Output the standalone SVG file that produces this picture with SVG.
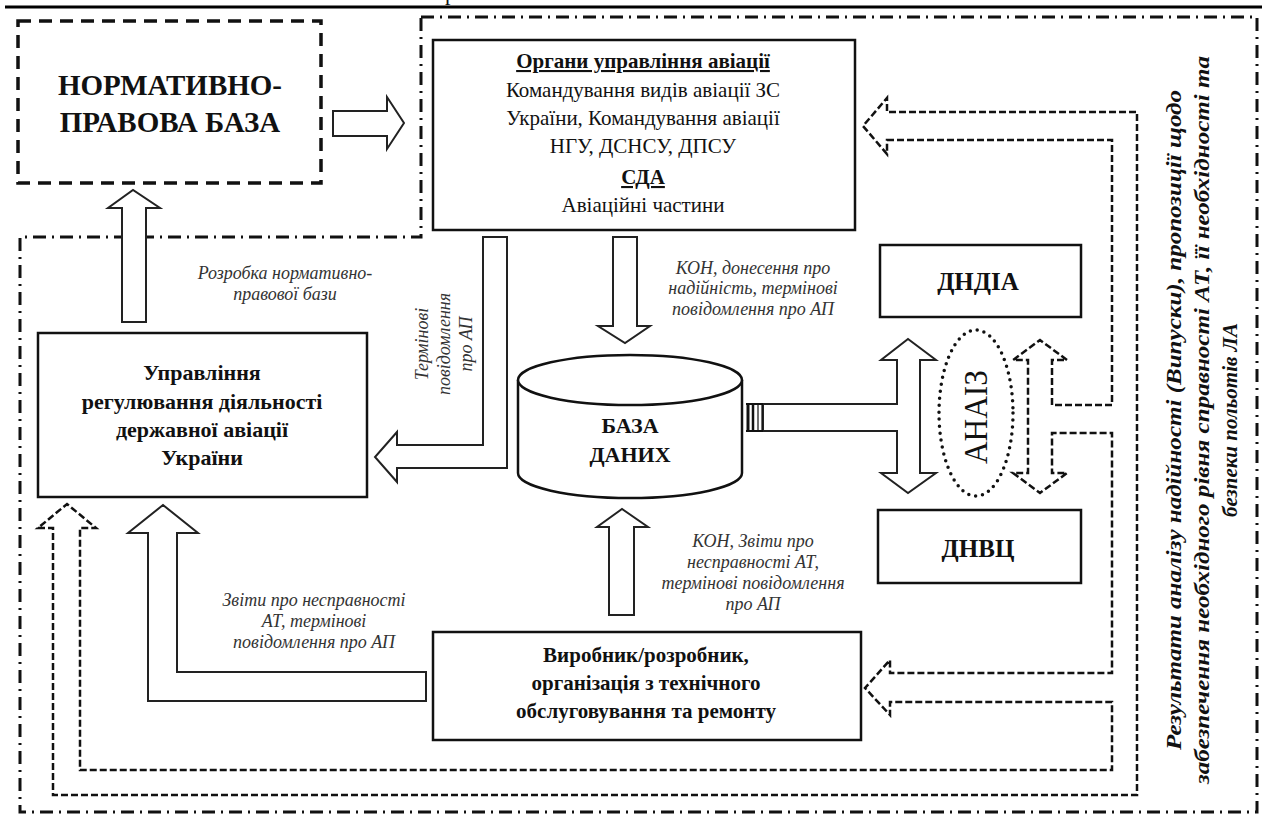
<svg xmlns="http://www.w3.org/2000/svg" width="1270" height="814" viewBox="0 0 1270 814">
<rect width="1270" height="814" fill="#fff"/>
<text x="445" y="0" font-size="22" font-family="Times New Roman" style="font-family:'Liberation Serif','Times New Roman',serif" fill="#111">р</text>
<line x1="5" y1="7" x2="1262" y2="7" stroke="#000" stroke-width="3"/>
<g id="region">
<path d="M421,17 H1257 V812 H20 V237 H421 Z" fill="none" stroke="#111" stroke-width="3" stroke-dasharray="13 6 2 6"/>
</g>
<g id="connectors">
<g fill="#fff" stroke="#222" stroke-width="2">
<path d="M333,111 H387 V97 L404,123 L387,149 V136 H333 Z"/>
<path d="M122,322 V208 H108 L133,190 L160,208 H146 V322 Z"/>
<path d="M613,237 H637 V326 H650 L625,343 L598,326 H613 Z"/>
<path d="M483,237 H507 V468 H397 V482 L375,457 L397,432 V445 H483 Z"/>
<path d="M609,615 V527 H597 L622,509 L648,527 H634 V615 Z"/>
<path d="M426,672 H177 V533 H198 L163,505 L128,533 H148 V701 H426 Z"/>
<path d="M763,404 H897 V360 H881 L908,339 L936,360 H920 V473 H936 L908,493 L881,473 H897 V431 H763 Z"/>
</g>
<g stroke="#111">
<line x1="748" y1="404" x2="748" y2="431" stroke-width="3"/>
<line x1="753" y1="404" x2="753" y2="431" stroke-width="2.5"/>
<line x1="758" y1="404" x2="758" y2="431" stroke-width="1.2"/>
<line x1="762" y1="404" x2="762" y2="431" stroke-width="1.2"/>
<line x1="746" y1="404" x2="763" y2="404" stroke-width="2"/>
<line x1="746" y1="431" x2="763" y2="431" stroke-width="2"/>
</g>
<path d="M887,140 H1112 V405 H1052 V360 H1067 L1040,340 L1013,360 H1028 V473 H1013 L1040,493 L1067,473 H1052 V433 H1112 V673 H890 V660 L865,688 L890,715 V702 H1112 V770 H80 V528 H96 L67,504 L38,528 H53 V795 H1137 V112 H887 V98 L863,126 L887,154 Z" fill="none" stroke="#111" stroke-width="2.5" stroke-dasharray="7 3"/>
</g>
<g id="normbase">
<rect x="18" y="21" width="303" height="162" fill="none" stroke="#111" stroke-width="3.5" stroke-dasharray="13 8"/>
<text x="170" y="95" font-size="29" font-weight="bold" text-anchor="middle" font-family="Times New Roman" style="font-family:'Liberation Serif','Times New Roman',serif" fill="#111">НОРМАТИВНО-</text>
<text x="170" y="132" font-size="29" font-weight="bold" text-anchor="middle" font-family="Times New Roman" style="font-family:'Liberation Serif','Times New Roman',serif" fill="#111">ПРАВОВА БАЗА</text>
</g>
<g id="organy">
<rect x="433" y="40" width="422" height="190" fill="#fff" stroke="#111" stroke-width="2.5"/>
<text x="643" y="68" font-size="21" text-anchor="middle" font-weight="bold" text-decoration="underline" font-family="Times New Roman" style="font-family:'Liberation Serif','Times New Roman',serif" fill="#111">Органи управління авіації</text>
<text x="643" y="97" font-size="21" text-anchor="middle" font-family="Times New Roman" style="font-family:'Liberation Serif','Times New Roman',serif" fill="#111">Командування видів авіації ЗС</text>
<text x="643" y="125" font-size="21" text-anchor="middle" font-family="Times New Roman" style="font-family:'Liberation Serif','Times New Roman',serif" fill="#111">України, Командування авіації</text>
<text x="643" y="153" font-size="21" text-anchor="middle" font-family="Times New Roman" style="font-family:'Liberation Serif','Times New Roman',serif" fill="#111">НГУ, ДСНСУ, ДПСУ</text>
<text x="643" y="184" font-size="21" text-anchor="middle" font-weight="bold" text-decoration="underline" font-family="Times New Roman" style="font-family:'Liberation Serif','Times New Roman',serif" fill="#111">СДА</text>
<text x="643" y="212" font-size="21" text-anchor="middle" font-family="Times New Roman" style="font-family:'Liberation Serif','Times New Roman',serif" fill="#111">Авіаційні частини</text>
</g>
<g id="upravlinnya">
<rect x="38" y="333" width="329" height="164" fill="#fff" stroke="#111" stroke-width="2.5"/>
<text x="202" y="380" font-size="22" font-weight="bold" text-anchor="middle" font-family="Times New Roman" style="font-family:'Liberation Serif','Times New Roman',serif" fill="#111">Управління</text>
<text x="202" y="409" font-size="22" font-weight="bold" text-anchor="middle" font-family="Times New Roman" style="font-family:'Liberation Serif','Times New Roman',serif" fill="#111">регулювання діяльності</text>
<text x="202" y="437" font-size="22" font-weight="bold" text-anchor="middle" font-family="Times New Roman" style="font-family:'Liberation Serif','Times New Roman',serif" fill="#111">державної авіації</text>
<text x="202" y="465" font-size="22" font-weight="bold" text-anchor="middle" font-family="Times New Roman" style="font-family:'Liberation Serif','Times New Roman',serif" fill="#111">України</text>
</g>
<g id="baza">
<path d="M518,380 V473 A112,25 0 0 0 742,473 V380" fill="#fff" stroke="#111" stroke-width="2.5"/>
<ellipse cx="630" cy="380" rx="112" ry="25" fill="#fff" stroke="#111" stroke-width="2.5"/>
<text x="630" y="433" font-size="22" font-weight="bold" text-anchor="middle" font-family="Times New Roman" style="font-family:'Liberation Serif','Times New Roman',serif" fill="#111">БАЗА</text>
<text x="630" y="462" font-size="22" font-weight="bold" text-anchor="middle" font-family="Times New Roman" style="font-family:'Liberation Serif','Times New Roman',serif" fill="#111">ДАНИХ</text>
</g>
<g id="dndia">
<rect x="880" y="245" width="201" height="72" fill="#fff" stroke="#111" stroke-width="2.5"/>
<text x="978" y="290" font-size="25" font-weight="bold" text-anchor="middle" font-family="Times New Roman" style="font-family:'Liberation Serif','Times New Roman',serif" fill="#111">ДНДІА</text>
</g>
<g id="dnvc">
<rect x="878" y="510" width="203" height="73" fill="#fff" stroke="#111" stroke-width="2.5"/>
<text x="978" y="557" font-size="25" font-weight="bold" text-anchor="middle" font-family="Times New Roman" style="font-family:'Liberation Serif','Times New Roman',serif" fill="#111">ДНВЦ</text>
</g>
<g id="analiz">
<ellipse cx="976" cy="413" rx="37" ry="83" fill="none" stroke="#111" stroke-width="3.5" stroke-dasharray="0 7" stroke-linecap="round"/>
<text transform="translate(976,417) rotate(-90)" x="0" y="11" font-size="33" text-anchor="middle" textLength="94" lengthAdjust="spacingAndGlyphs" font-family="Times New Roman" style="font-family:'Liberation Serif','Times New Roman',serif" fill="#111">АНАІЗ</text>
</g>
<g id="vyrobnyk">
<rect x="433" y="632" width="428" height="108" fill="#fff" stroke="#111" stroke-width="2.5"/>
<text x="646" y="662" font-size="21" font-weight="bold" text-anchor="middle" font-family="Times New Roman" style="font-family:'Liberation Serif','Times New Roman',serif" fill="#111">Виробник/розробник,</text>
<text x="646" y="690" font-size="21" font-weight="bold" text-anchor="middle" font-family="Times New Roman" style="font-family:'Liberation Serif','Times New Roman',serif" fill="#111">організація з технічного</text>
<text x="646" y="718" font-size="21" font-weight="bold" text-anchor="middle" font-family="Times New Roman" style="font-family:'Liberation Serif','Times New Roman',serif" fill="#111">обслуговування та ремонту</text>
</g>
<g id="labels">
<text x="285" y="279" font-size="18" font-style="italic" text-anchor="middle" font-family="Times New Roman" style="font-family:'Liberation Serif','Times New Roman',serif" fill="#333">Розробка нормативно-</text>
<text x="285" y="300" font-size="18" font-style="italic" text-anchor="middle" font-family="Times New Roman" style="font-family:'Liberation Serif','Times New Roman',serif" fill="#333">правової бази</text>
<g transform="translate(440,344) rotate(-90)">
<text x="0" y="-12" font-size="18" font-style="italic" text-anchor="middle" font-family="Times New Roman" style="font-family:'Liberation Serif','Times New Roman',serif" fill="#333">Термінові</text>
<text x="0" y="10" font-size="18" font-style="italic" text-anchor="middle" font-family="Times New Roman" style="font-family:'Liberation Serif','Times New Roman',serif" fill="#333">повідомлення</text>
<text x="0" y="32" font-size="18" font-style="italic" text-anchor="middle" font-family="Times New Roman" style="font-family:'Liberation Serif','Times New Roman',serif" fill="#333">про АП</text>
</g>
<text x="753" y="274" font-size="18" font-style="italic" text-anchor="middle" font-family="Times New Roman" style="font-family:'Liberation Serif','Times New Roman',serif" fill="#333">КОН, донесення про</text>
<text x="753" y="294" font-size="18" font-style="italic" text-anchor="middle" font-family="Times New Roman" style="font-family:'Liberation Serif','Times New Roman',serif" fill="#333">надійність, термінові</text>
<text x="753" y="315" font-size="18" font-style="italic" text-anchor="middle" font-family="Times New Roman" style="font-family:'Liberation Serif','Times New Roman',serif" fill="#333">повідомлення про АП</text>
<text x="753" y="547" font-size="18" font-style="italic" text-anchor="middle" font-family="Times New Roman" style="font-family:'Liberation Serif','Times New Roman',serif" fill="#333">КОН, Звіти про</text>
<text x="753" y="568" font-size="18" font-style="italic" text-anchor="middle" font-family="Times New Roman" style="font-family:'Liberation Serif','Times New Roman',serif" fill="#333">несправності АТ,</text>
<text x="753" y="589" font-size="18" font-style="italic" text-anchor="middle" font-family="Times New Roman" style="font-family:'Liberation Serif','Times New Roman',serif" fill="#333">термінові повідомлення</text>
<text x="753" y="610" font-size="18" font-style="italic" text-anchor="middle" font-family="Times New Roman" style="font-family:'Liberation Serif','Times New Roman',serif" fill="#333">про АП</text>
<text x="314" y="606" font-size="18" font-style="italic" text-anchor="middle" font-family="Times New Roman" style="font-family:'Liberation Serif','Times New Roman',serif" fill="#333">Звіти про несправності</text>
<text x="314" y="627" font-size="18" font-style="italic" text-anchor="middle" font-family="Times New Roman" style="font-family:'Liberation Serif','Times New Roman',serif" fill="#333">АТ, термінові</text>
<text x="314" y="648" font-size="18" font-style="italic" text-anchor="middle" font-family="Times New Roman" style="font-family:'Liberation Serif','Times New Roman',serif" fill="#333">повідомлення про АП</text>
<g transform="translate(1181,420) rotate(-90)">
<text x="0" y="0" font-size="21" font-weight="bold" font-style="italic" text-anchor="middle" textLength="660" lengthAdjust="spacingAndGlyphs" font-family="Times New Roman" style="font-family:'Liberation Serif','Times New Roman',serif" fill="#111">Результати  аналізу надійності (Випуски), пропозиції щодо</text>
<text x="0" y="28" font-size="21" font-weight="bold" font-style="italic" text-anchor="middle" textLength="728" lengthAdjust="spacingAndGlyphs" font-family="Times New Roman" style="font-family:'Liberation Serif','Times New Roman',serif" fill="#111">забезпечення необхідного рівня справності АТ, її необхідності та</text>
<text x="0" y="56" font-size="21" font-weight="bold" font-style="italic" text-anchor="middle" font-family="Times New Roman" style="font-family:'Liberation Serif','Times New Roman',serif" fill="#111">безпеки польотів ЛА</text>
</g>
</g>
</svg>
